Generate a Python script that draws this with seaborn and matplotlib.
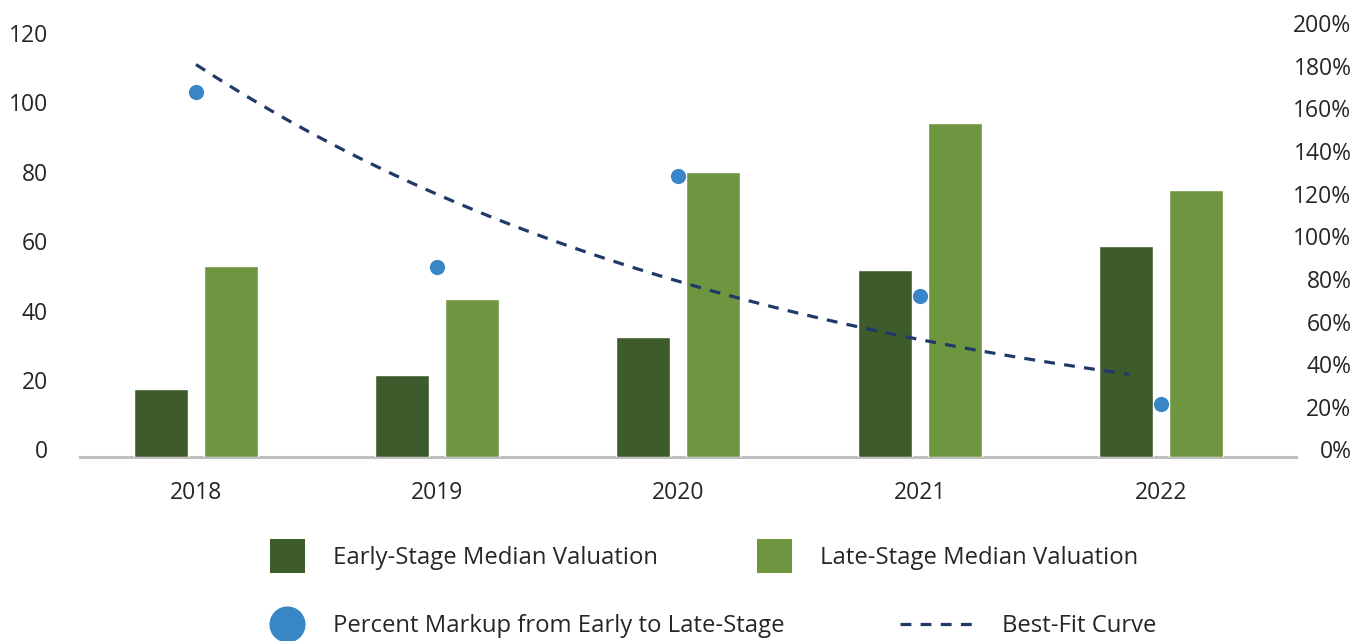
import numpy as np
import pandas as pd
import matplotlib.pyplot as plt
import seaborn as sns
from matplotlib.patches import Patch
from matplotlib.lines import Line2D
from matplotlib.transforms import ScaledTranslation

# data
years = ['2018', '2019', '2020', '2021', '2022']
early_stage = [19.7, 23.8, 34.7, 54.0, 60.9]
late_stage = [55.2, 45.7, 82.3, 96.4, 77.1]
markup_pct = [171.5, 89.5, 132.0, 75.7, 25.1]

early_label = 'Early-Stage Median Valuation'
late_label = 'Late-Stage Median Valuation'
markup_label = 'Percent Markup from Early to Late-Stage'
fit_label = 'Best-Fit Curve'

c_early = '#3D5B2B'
c_late = '#6E9640'
c_dot = '#3886C6'
c_fit = '#1F3A68'

sns.set_style('white')
plt.rcParams['font.family'] = ['Open Sans', 'DejaVu Sans']
plt.rcParams['font.size'] = 16.5
plt.rcParams['text.color'] = '#262626'
plt.rcParams['xtick.color'] = '#262626'
plt.rcParams['ytick.color'] = '#262626'

df = pd.DataFrame({
    'year': years * 2,
    'stage': [early_label] * len(years) + [late_label] * len(years),
    'value': early_stage + late_stage,
})

fig = plt.figure(figsize=(13.69, 6.41), dpi=100)
ax = fig.add_axes([0.0584, 0.2863, 0.8882, 0.6654])

sns.barplot(data=df, x='year', y='value', hue='stage', palette=[c_early, c_late],
            width=0.58, gap=0.228, ax=ax, legend=False, saturation=1)
ax.set_ylim(0, 122.9)
ax.set_yticks(range(0, 121, 20))
ax.set_xlim(-0.481, 4.56)
ax.set_xlabel('')
ax.set_ylabel('')

ax2 = ax.twinx()
xpos = np.arange(len(years))
sns.scatterplot(x=xpos, y=markup_pct, ax=ax2, color=c_dot, s=120, linewidth=0, zorder=3)

# exponential best-fit through the markup points
b, a = np.polyfit(xpos, np.log(markup_pct), 1)
fit_end = 3.87
xs = np.linspace(0, fit_end, 100)
sns.lineplot(x=xs, y=np.exp(a + b * xs), ax=ax2, color=c_fit, lw=2.3,
             linestyle=(0, (3.4, 2.9)))
ax2.set_ylim(0, 200)
ax2.set_yticks(range(0, 201, 20))
ax2.set_yticklabels([f'{v}%' for v in range(0, 201, 20)])
ax2.set_xlim(-0.481, 4.56)

for a_ in (ax, ax2):
    for s in ['left', 'right', 'top', 'bottom']:
        a_.spines[s].set_visible(False)
ax.spines['bottom'].set_visible(True)
ax.spines['bottom'].set_color('#BFBFBF')
ax.spines['bottom'].set_linewidth(2.2)
ax.spines['bottom'].set_zorder(0)

ax.tick_params(axis='y', length=0, pad=23)
ax.tick_params(axis='x', length=0, pad=17)
ax2.tick_params(axis='y', length=0, pad=40)
for lab in ax2.get_yticklabels():
    lab.set_horizontalalignment('right')

up = ScaledTranslation(0, 0.08, fig.dpi_scale_trans)
for lab in ax.get_yticklabels() + ax2.get_yticklabels():
    lab.set_transform(lab.get_transform() + up)

# legend, laid out as in the reference
fs = 17.2
common = dict(frameon=False, borderpad=0, borderaxespad=0, loc='center left',
              fontsize=fs)
fig.legend(handles=[Patch(facecolor=c_early, edgecolor='none', label=early_label)],
           bbox_to_anchor=(270 / 1369, 1 - 556 / 641), handlelength=1.46,
           handleheight=1.75, handletextpad=1.17, **common)
fig.legend(handles=[Patch(facecolor=c_late, edgecolor='none', label=late_label)],
           bbox_to_anchor=(757 / 1369, 1 - 556 / 641), handlelength=1.46,
           handleheight=1.75, handletextpad=1.17, **common)
fig.legend(handles=[Line2D([], [], marker='o', color=c_dot, lw=0, markersize=25,
                           label=markup_label)],
           bbox_to_anchor=(270 / 1369, 1 - 626 / 641), handlelength=1.46,
           handletextpad=1.17, **common)
fig.legend(handles=[Line2D([], [], color=c_fit, lw=2.3, linestyle=(0, (3.4, 2.9)),
                           label=fit_label)],
           bbox_to_anchor=(900 / 1369, 1 - 626 / 641), handlelength=3.0,
           handletextpad=1.25, **common)

fig.savefig('out.png', dpi=100)
